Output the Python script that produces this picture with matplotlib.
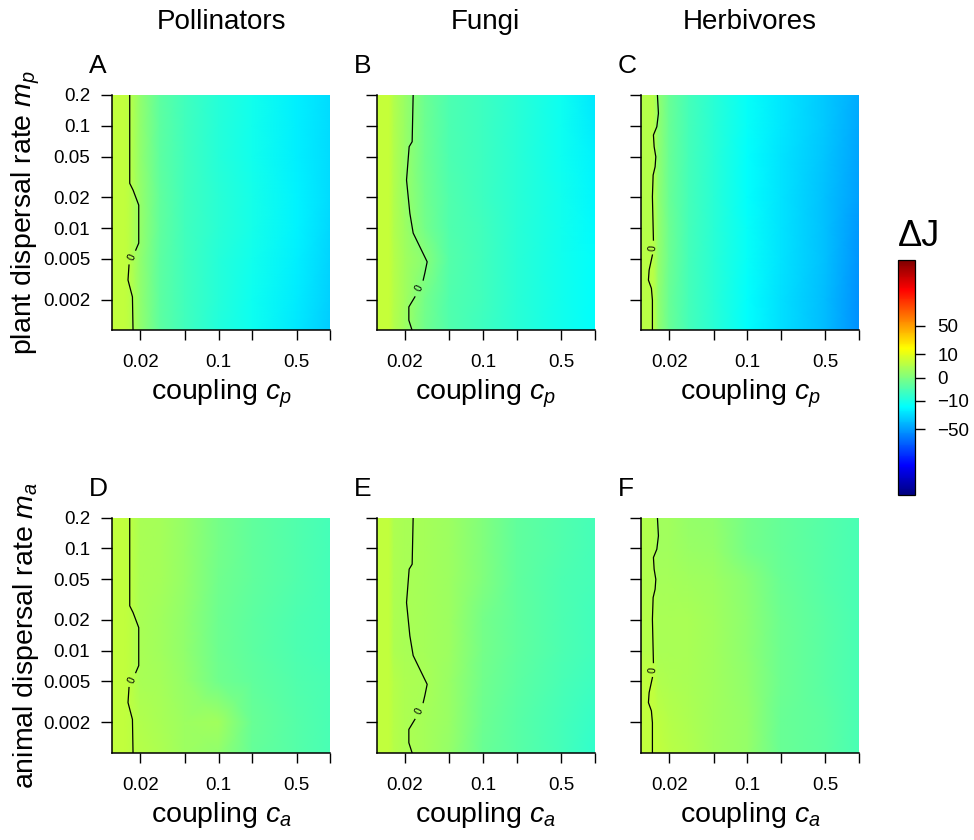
import numpy as np
import matplotlib
matplotlib.use("Agg")
import matplotlib.pyplot as plt
from matplotlib.colors import LinearSegmentedColormap, FuncNorm
from matplotlib.cm import ScalarMappable
from matplotlib.ticker import NullLocator

plt.rcParams["font.family"] = ["Liberation Sans", "DejaVu Sans"]
plt.rcParams["mathtext.fontset"] = "custom"
plt.rcParams["mathtext.rm"] = "Liberation Sans"
plt.rcParams["mathtext.it"] = "Liberation Sans:italic"

# grid nodes (coupling on x, dispersal rate on y, rows listed top -> bottom)
coupling = [0.0112, 0.0145, 0.016, 0.02, 0.03, 0.05, 0.1, 0.2, 0.5, 1.0]
dispersal = [0.2, 0.1, 0.05, 0.02, 0.01, 0.005, 0.002, 0.001]

# delta J
dj_A = [
    [4, 4, 3.5, 0.3, -1.1, -3.8, -7.8, -11.5, -19.5, -26],
    [4, 4, 3.5, 0.3, -1.1, -3.8, -7.8, -11.5, -19.5, -26],
    [4, 4, 3.5, 0.3, -1.1, -3.8, -7.8, -11.5, -19.5, -26],
    [4, 4, 3.5, 0.5, -1.0, -3.6, -7.5, -11.0, -19.0, -26],
    [4, 4, 3.5, 0.5, -1.0, -3.6, -7.5, -11.0, -19.0, -27],
    [4, 4, 3.5, 0.3, -1.1, -3.8, -7.8, -11.5, -20.0, -28],
    [4, 4, 3.5, 0.3, -1.2, -4.0, -8.2, -12.5, -21.0, -30],
    [4, 4, 3.5, 0.3, -1.2, -4.0, -8.5, -13.0, -22.0, -31],
]
dj_B = [
    [5, 5, 2.5, 0.6, -0.3, -2.4, -4.5, -7.5, -13, -22],
    [5, 5, 2.5, 0.6, -0.3, -2.4, -4.5, -7.5, -13, -21],
    [5, 5, 2.5, 0.6, -0.3, -2.3, -4.3, -7.2, -12.5, -19],
    [5, 5, 2.5, 0.7, -0.2, -2.2, -4.2, -7.0, -12, -18],
    [5, 5, 2.5, 0.8, -0.1, -2.0, -4.0, -7.0, -12, -17],
    [5, 5, 2.8, 1.2, 0.1, -1.8, -4.0, -7.0, -11.5, -16],
    [5, 5, 2.8, 1.0, -0.1, -2.0, -4.0, -7.0, -11.5, -16],
    [5, 5, 2.5, 0.8, -0.2, -2.2, -4.2, -7.2, -12, -16],
]
dj_C = [
    [3, 3, 0.3, -0.4, -3.2, -7, -15, -22, -33, -43],
    [3, 3, 0.3, -0.4, -3.2, -7, -15, -22, -33, -45],
    [3, 3, 0.3, -0.4, -3.3, -7.2, -15.5, -23, -34, -47],
    [3, 3, 0.3, -0.4, -3.3, -7.2, -15.5, -23, -35, -49],
    [3, 3, 0.4, -0.3, -3.2, -7, -15, -23, -35, -51],
    [3.5, 3.5, 0.4, -0.3, -3.2, -7, -15, -23, -36, -53],
    [3.5, 3.5, 0.3, -0.4, -3.3, -7.2, -15.5, -24, -37, -55],
    [3.5, 3.5, 0.3, -0.4, -3.3, -7.2, -15.5, -24, -37, -55],
]
dj_D = [
    [4, 4, 3.8, 1.6, 1.4, 0.5, -0.1, -1.0, -2.2, -3.2],
    [4, 4, 3.8, 1.6, 1.4, 0.5, -0.1, -1.0, -2.2, -3.2],
    [4, 4, 3.8, 1.6, 1.4, 0.4, -0.2, -1.0, -2.2, -3.2],
    [4, 4, 3.8, 1.6, 1.2, 0.3, -0.3, -1.2, -2.4, -3.2],
    [4, 4, 3.8, 1.6, 1.2, 0.3, -0.3, -1.2, -2.4, -3.2],
    [4, 4, 3.8, 1.8, 1.3, 0.4, -0.2, -1.0, -2.2, -3.0],
    [4, 4, 3.8, 2.5, 1.8, 0.8, 1.0, -0.5, -1.8, -2.8],
    [4, 4, 3.8, 3.0, 2.0, 0.8, 0.3, -0.6, -1.8, -2.8],
]
dj_E = [
    [4, 4, 2.0, 1.6, 1.4, 0.8, 0.0, -0.8, -2.2, -3.5],
    [4, 4, 2.0, 1.6, 1.4, 0.8, 0.0, -0.8, -2.2, -3.5],
    [4, 4, 2.0, 1.6, 1.4, 0.8, 0.0, -0.8, -2.3, -3.5],
    [4, 4, 2.2, 1.7, 1.5, 0.8, -0.1, -0.9, -2.5, -3.8],
    [4, 4, 2.2, 1.7, 1.5, 0.8, -0.1, -1.0, -2.6, -4.0],
    [4.5, 4.5, 2.8, 2.2, 1.6, 0.7, -0.2, -1.2, -2.8, -4.5],
    [4.5, 4.5, 3.0, 2.2, 1.5, 0.6, -0.3, -1.3, -3.2, -5.5],
    [4.5, 4.5, 3.0, 2.0, 1.4, 0.5, -0.4, -1.5, -3.4, -6.0],
]
dj_F = [
    [2.3, 2.3, 1.0, 1.0, 0.5, 0.3, -0.1, -0.7, -1.8, -3.0],
    [2.3, 2.3, 1.0, 1.0, 0.6, 0.4, -0.1, -0.7, -1.8, -3.0],
    [2.5, 2.5, 1.4, 1.4, 1.2, 0.8, 0.1, -0.5, -1.6, -3.0],
    [2.8, 2.8, 1.6, 1.6, 1.6, 1.2, 0.2, -0.3, -1.5, -3.0],
    [3.0, 3.0, 1.8, 1.7, 1.6, 1.2, 0.2, -0.3, -1.5, -3.0],
    [4.0, 4.0, 2.5, 2.2, 1.8, 1.2, 0.3, -0.3, -1.3, -3.0],
    [4.0, 4.0, 3.8, 3.0, 2.2, 1.2, 0.4, -0.4, -1.2, -3.0],
    [4.0, 4.0, 4.0, 3.2, 2.3, 1.2, 0.4, -0.4, -1.2, -3.0],
]

# zero contour per column (nan = gap where the "0" label sits)
zero_m_poll = [0.2, 0.0274, 0.0236, 0.0168, 0.00714, 0.0061, np.nan, 0.00436, 0.00311, 0.00213, 0.001]
zero_c_poll = [0.01604, 0.01604, 0.01717, 0.01931, 0.01931, 0.01815, np.nan, 0.0158, 0.01548, 0.01696, 0.01717]
zero_m_fungi = [0.2, 0.0699, 0.0625, 0.0295, 0.01396, 0.00896, 0.00658, 0.00469, 0.00364, 0.00311,
                np.nan, 0.00213, 0.0017, 0.00126, 0.001]
zero_c_fungi = [0.02374, 0.02325, 0.02186, 0.02071, 0.02218, 0.02374, 0.02724, 0.03168, 0.0302, 0.0292,
                np.nan, 0.0246, 0.02172, 0.02172, 0.02325]
zero_m_herb = [0.2, 0.1324, 0.098, 0.0813, 0.0625, 0.0498, 0.0398, 0.033, 0.0203, 0.00765,
               np.nan, 0.00546, 0.00389, 0.00311, 0.00258, 0.00198, 0.001]
zero_c_herb = [0.01571, 0.01604, 0.01552, 0.01447, 0.01468, 0.0152, 0.01498, 0.01438, 0.01417, 0.01447,
               np.nan, 0.01417, 0.01324, 0.01305, 0.01388, 0.01417, 0.01417]

titles = ["Pollinators", "Fungi", "Herbivores"]
letters = [["A", "B", "C"], ["D", "E", "F"]]
grids = [[dj_A, dj_B, dj_C], [dj_D, dj_E, dj_F]]
zero_lines = [(zero_c_poll, zero_m_poll), (zero_c_fungi, zero_m_fungi), (zero_c_herb, zero_m_herb)]
row_ylabels = [r"plant dispersal rate $m_p$", r"animal dispersal rate $m_a$"]
row_xlabels = [r"coupling $c_p$", r"coupling $c_a$"]

x_ticks = [0.02, 0.05, 0.1, 0.2, 0.5, 1.0]
x_tick_labels = ["0.02", "", "0.1", "", "0.5", ""]
y_ticks = [0.002, 0.005, 0.01, 0.02, 0.05, 0.1, 0.2]
y_tick_labels = ["0.002", "0.005", "0.01", "0.02", "0.05", "0.1", "0.2"]

cbar_ticks = [-50, -10, 0, 10, 50]
cbar_labels = ["\u221250", "\u221210", "0", "10", "50"]

jet = LinearSegmentedColormap.from_list(
    "jet9", ["#00007F", "#0000FF", "#007FFF", "#00FFFF", "#7FFF7F",
             "#FFFF00", "#FF7F00", "#FF0000", "#7F0000"], N=256)


def fwd(v):
    v = np.asarray(v, dtype=float)
    return np.sign(v) * np.sqrt(np.abs(v))


def inv(s):
    s = np.asarray(s, dtype=float)
    return np.sign(s) * s ** 2


norm = FuncNorm((fwd, inv), vmin=-256, vmax=256)

W, H = 974, 840
fig = plt.figure(figsize=(W / 100, H / 100), dpi=100)


def px_axes(left, top, w, h):
    return fig.add_axes([left / W, 1 - (top + h) / H, w / W, h / H])


col_left = [112.3, 376.7, 641.0]
row_top = [95.0, 517.5]
pw, ph = 218, 235.5

X, Y = np.meshgrid(coupling, dispersal)

for r in range(2):
    for c in range(3):
        ax = px_axes(col_left[c], row_top[r], pw, ph)
        ax.pcolormesh(X, Y, np.array(grids[r][c], dtype=float), cmap=jet, norm=norm,
                      shading="gouraud")
        ax.set_xscale("log")
        ax.set_yscale("log")
        ax.set_xlim(coupling[0], coupling[-1])
        ax.set_ylim(dispersal[-1], dispersal[0])
        ax.set_xticks(x_ticks, labels=x_tick_labels)
        ax.set_yticks(y_ticks, labels=y_tick_labels if c == 0 else [""] * len(y_ticks))
        ax.xaxis.set_minor_locator(NullLocator())
        ax.yaxis.set_minor_locator(NullLocator())
        ax.tick_params(axis="x", direction="out", length=7, width=1, pad=10, labelsize=13.5)
        ax.tick_params(axis="y", direction="out", length=8, width=1, pad=8, labelsize=13.5)
        for s in ["top", "right"]:
            ax.spines[s].set_visible(False)
        for s in ["left", "bottom"]:
            ax.spines[s].set_linewidth(1.1)

        zc, zm = zero_lines[c]
        ax.plot(zc, zm, color="black", lw=0.9)
        gap = [i for i, v in enumerate(zc) if np.isnan(v)][0]
        p_up = ax.transData.transform((zc[gap - 1], zm[gap - 1]))
        p_dn = ax.transData.transform((zc[gap + 1], zm[gap + 1]))
        ang = np.degrees(np.arctan2(p_up[1] - p_dn[1], p_up[0] - p_dn[0]))
        ax.text(np.sqrt(zc[gap - 1] * zc[gap + 1]), np.sqrt(zm[gap - 1] * zm[gap + 1]), "0",
                fontsize=7.5, rotation=ang, rotation_mode="anchor", ha="center", va="center")

        cx = col_left[c] + pw / 2
        fig.text(cx / W, 1 - (row_top[r] + 305) / H, row_xlabels[r], fontsize=20.5,
                 ha="center", va="baseline")
        fig.text((col_left[c] - 23) / W, 1 - (row_top[r] - 29) / H, letters[r][c], fontsize=19,
                 ha="left", va="center")
        if r == 0:
            fig.text(cx / W, 1 - 22 / H, titles[c], fontsize=20, ha="center", va="center")
    fig.text(26 / W, 1 - (row_top[r] + ph / 2) / H, row_ylabels[r], fontsize=20.5,
             rotation=90, ha="center", va="center")

cax = px_axes(898, 260, 17, 235)
cb = fig.colorbar(ScalarMappable(norm=norm, cmap=jet), cax=cax)
cb.set_ticks(cbar_ticks, labels=cbar_labels)
cb.minorticks_off()
cb.outline.set_linewidth(0.9)
cax.tick_params(direction="out", length=7, width=1, pad=9, labelsize=13.5)
fig.text(919 / W, 1 - 237 / H, "\u0394J", fontsize=26, ha="center", va="center")

fig.savefig("out.png", dpi=100)
plt.close(fig)
